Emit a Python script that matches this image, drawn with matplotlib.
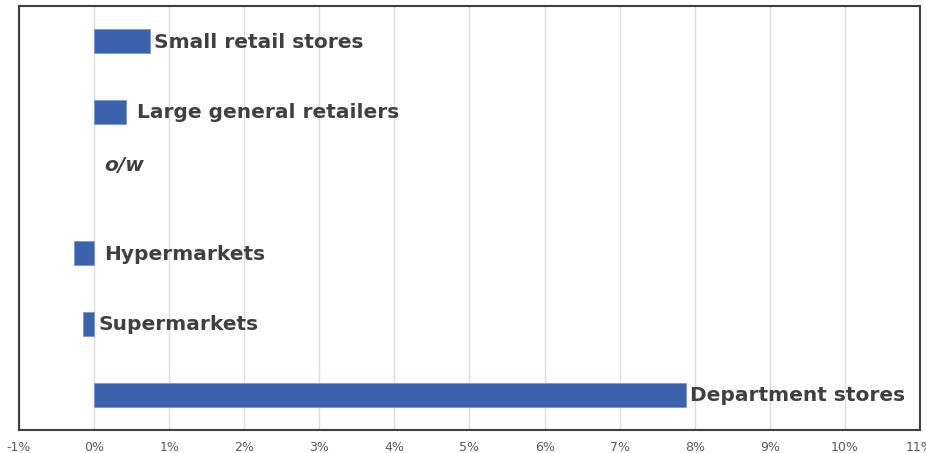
import matplotlib
matplotlib.use("Agg")
import matplotlib.pyplot as plt
from matplotlib.ticker import FuncFormatter, MultipleLocator

categories = ["Small retail stores", "Large general retailers", "o/w",
              "Hypermarkets", "Supermarkets", "Department stores"]
values = [0.75, 0.43, None, -0.27, -0.15, 7.88]
label_dx = [4, 11, 10, 10, 4, 4]     # pixel gap between bar end/zero and label
label_dy = [-1, -1, 17, -1, -1, -1]  # pixel shift up
italic = [False, False, True, False, False, False]

plt.rcParams['font.family'] = ['DejaVu Sans']

fig = plt.figure(figsize=(9.26, 4.53), dpi=100)
ax = fig.add_axes([19/926, 23/453, 901/926, 424/453])

for i, (cat, v) in enumerate(zip(categories, values)):
    if v is not None:
        ax.barh(i, v, height=0.34, color="#3b63ad", edgecolor="#7a98d0",
                linewidth=0.6, zorder=3)
    x0 = max(v, 0) if v is not None else 0
    ax.annotate(cat, xy=(x0, i), xytext=(label_dx[i], label_dy[i]),
                textcoords="offset pixels", ha="left", va="center",
                fontsize=14.5, fontweight="bold", color="#404040",
                fontstyle="italic" if italic[i] else "normal", zorder=4)

ax.set_xlim(-1, 11)
ax.set_ylim(len(categories) - 0.5, -0.5)
ax.xaxis.set_major_locator(MultipleLocator(1))
ax.xaxis.set_major_formatter(FuncFormatter(lambda x, p: f"{x:.0f}%"))
ax.set_yticks([])
ax.grid(axis="x", color="#dcdcdc", linewidth=1.0, zorder=0)
ax.tick_params(axis="x", length=0, labelsize=9, labelcolor="#595959", pad=8)
for s in ax.spines.values():
    s.set_color("#404040")
    s.set_linewidth(1.5)

fig.savefig("out.png", dpi=100)
